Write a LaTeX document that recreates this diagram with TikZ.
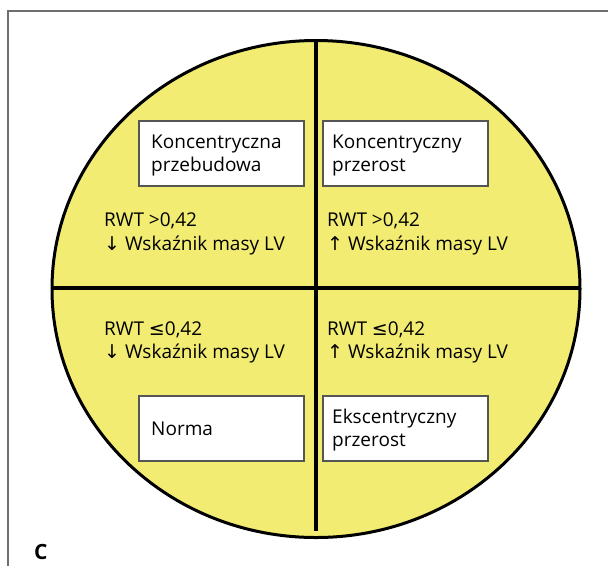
\documentclass[tikz,border=0pt]{standalone}
\usepackage{fontspec}
\setmainfont{Open Sans}
\newfontfamily\symf{DejaVu Sans}
\usetikzlibrary{shapes.geometric}
\definecolor{fillyellow}{RGB}{242,236,115}
\definecolor{boxgray}{RGB}{85,85,85}
\definecolor{framegray}{RGB}{110,110,110}
\begin{document}
\begin{tikzpicture}[x=1pt,y=-1pt,
  lbl/.style={anchor=base west, inner sep=0pt, font=\fontsize{19}{22}\selectfont},
  whitebox/.style={draw=boxgray, line width=1.5pt, fill=white, minimum width=165pt, minimum height=65pt, anchor=north west, inner sep=0pt},
  thick line/.style={line width=4pt, black}]
\useasboundingbox (0,0) rectangle (608,566);
\coordinate (fbl) at (8,566);
\coordinate (ftl) at (8,11);
\coordinate (ftr) at (608,11);
\draw[framegray, line width=1.5pt] (fbl) -- (ftl) -- (ftr);
\coordinate (c) at (316,289);
\draw[fill=fillyellow, line width=3pt] (c) ellipse [x radius=264, y radius=248.5];
\coordinate (vt) at (316,41);
\coordinate (vb) at (316,531);
\coordinate (hl) at (52,288);
\coordinate (hr) at (580,288);
\draw[thick line] (vt) -- (vb);
\draw[thick line] (hl) -- (hr);
% boxes
\node[whitebox] (b1) at (138,120) {};
\node[whitebox] (b2) at (322,120) {};
\node[whitebox] (b3) at (138,395) {};
\node[whitebox] (b4) at (322,395) {};
% box texts
\node[lbl] (t1a) at (151,148) {Koncentryczna};
\node[lbl] (t1b) at (151,171) {przebudowa};
\node[lbl] (t2a) at (332,148) {Koncentryczny};
\node[lbl] (t2b) at (332,171) {przerost};
\node[lbl] (t3) at (151,435) {Norma};
\node[lbl] (t4a) at (332,423) {Ekscentryczny};
\node[lbl] (t4b) at (332,446) {przerost};
% criteria
\node[lbl] (r1a) at (104,226) {RWT >0,42};
\node[lbl] (r1b) at (104,250) {{\symf ↓} Wskaźnik masy LV};
\node[lbl] (r2a) at (327,226) {RWT >0,42};
\node[lbl] (r2b) at (327,250) {{\symf ↑} Wskaźnik masy LV};
\node[lbl] (r3a) at (104,335) {RWT {\symf ≤}0,42};
\node[lbl] (r3b) at (104,358) {{\symf ↓} Wskaźnik masy LV};
\node[lbl] (r4a) at (327,335) {RWT {\symf ≤}0,42};
\node[lbl] (r4b) at (327,358) {{\symf ↑} Wskaźnik masy LV};
\node[lbl, font=\bfseries\fontsize{21}{22}\selectfont] (lc) at (34,559) {C};
\end{tikzpicture}
\end{document}
